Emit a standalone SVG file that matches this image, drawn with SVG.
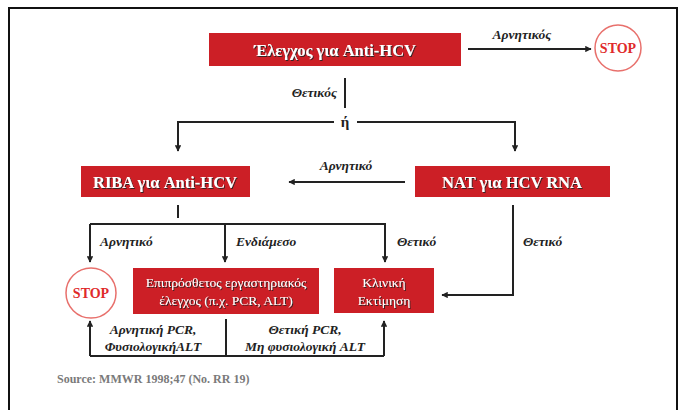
<svg xmlns="http://www.w3.org/2000/svg" width="683" height="410" viewBox="0 0 683 410">
<defs>
<marker id="arr" viewBox="0 0 10 10" refX="9" refY="5" markerWidth="3.2" markerHeight="3.2" orient="auto" markerUnits="strokeWidth">
<path d="M0,0 L10,5 L0,10 z" fill="#222"/>
</marker>
<filter id="sh" x="-10%" y="-30%" width="120%" height="160%">
<feDropShadow dx="1" dy="1" stdDeviation="0.4" flood-color="#222" flood-opacity="0.9"/>
</filter>
</defs>
<style>
.box{fill:#cc1f26}
.bt{font-family:"Liberation Serif","DejaVu Serif Condensed","DejaVu Serif",serif;font-weight:bold;fill:#fff;text-anchor:middle;font-size:16.5px}
.st{font-family:"Liberation Serif","DejaVu Serif Condensed","DejaVu Serif",serif;fill:#fff;text-anchor:middle;font-size:13.5px}
.lb{font-family:"Liberation Serif","DejaVu Serif Condensed","DejaVu Serif",serif;font-weight:bold;font-style:italic;fill:#222;font-size:13.5px}
.c{fill:none;stroke:#222;stroke-width:2}
.stop{fill:#fff;stroke:#e8706c;stroke-width:1.5}
.stopt{font-family:"Liberation Serif","Times New Roman",serif;font-weight:bold;fill:#e02a2a;text-anchor:middle;font-size:14px}
</style>
<rect x="9" y="8" width="668" height="420" fill="#fff" stroke="#111" stroke-width="2"/>
<g id="connectors">
<path class="c" d="M468,49 H591" marker-end="url(#arr)"/>
<path class="c" d="M345,78 V108"/>
<path class="c" d="M334,122 H178 V151" marker-end="url(#arr)"/>
<path class="c" d="M357,122 H515 V151" marker-end="url(#arr)"/>
<path class="c" d="M405,182 H289" marker-end="url(#arr)"/>
<path class="c" d="M178,205 V218"/>
<path class="c" d="M90,224 H385 V262" marker-end="url(#arr)"/>
<path class="c" d="M90,224 V262" marker-end="url(#arr)"/>
<path class="c" d="M225,224 V262" marker-end="url(#arr)"/>
<path class="c" d="M513,205 V295 H442" marker-end="url(#arr)"/>
<path class="c" d="M226,319 V356"/>
<path class="c" d="M90,356 H384"/>
<path class="c" d="M90,356 V321" marker-end="url(#arr)"/>
<path class="c" d="M384,356 V321" marker-end="url(#arr)"/>
<text class="lb" x="522" y="39" text-anchor="middle">Αρνητικός</text>
<text class="lb" x="337" y="97" text-anchor="end">Θετικός</text>
<text class="lb" x="345" y="127" text-anchor="middle" style="font-style:normal;font-size:15px">ή</text>
<text class="lb" x="346" y="170" text-anchor="middle">Αρνητικό</text>
<text class="lb" x="100" y="246">Αρνητικό</text>
<text class="lb" x="236" y="246">Ενδιάμεσο</text>
<text class="lb" x="397" y="246">Θετικό</text>
<text class="lb" x="523" y="246">Θετικό</text>
<text class="lb" x="153" y="334" text-anchor="middle">Αρνητική PCR,</text>
<text class="lb" x="153" y="351" text-anchor="middle">ΦυσιολογικήALT</text>
<text class="lb" x="305" y="334" text-anchor="middle">Θετική PCR,</text>
<text class="lb" x="305" y="351" text-anchor="middle">Μη φυσιολογική ALT</text>
</g>
<g id="n-test">
<rect class="box" x="209" y="33" width="252" height="33"/>
<text class="bt" x="335" y="55.5" filter="url(#sh)">Έλεγχος για Anti-HCV</text>
</g>
<g id="n-stop1">
<circle class="stop" cx="618" cy="48" r="23"/>
<text class="stopt" x="618" y="53">STOP</text>
</g>
<g id="n-riba">
<rect class="box" x="81" y="166" width="169" height="31"/>
<text class="bt" x="165" y="187.5" filter="url(#sh)">RIBA για Anti-HCV</text>
</g>
<g id="n-nat">
<rect class="box" x="415" y="166" width="195" height="31"/>
<text class="bt" x="512" y="187.5" filter="url(#sh)">NAT για HCV RNA</text>
</g>
<g id="n-stop2">
<circle class="stop" cx="91" cy="293" r="25"/>
<text class="stopt" x="91" y="298">STOP</text>
</g>
<g id="n-extra">
<rect class="box" x="133" y="268" width="186" height="46"/>
<text class="st" x="226" y="287" filter="url(#sh)">Επιπρόσθετος εργαστηριακός</text>
<text class="st" x="226" y="305" filter="url(#sh)">έλεγχος (π.χ. PCR, ALT)</text>
</g>
<g id="n-clinic">
<rect class="box" x="334" y="268" width="100" height="45"/>
<text class="st" x="384" y="287" filter="url(#sh)">Κλινική</text>
<text class="st" x="384" y="305" filter="url(#sh)">Εκτίμηση</text>
</g>
<text x="57" y="383" font-family="Liberation Serif, Times New Roman, serif" font-size="12" font-weight="bold" fill="#7a7a7a">Source: MMWR 1998;47 (No. RR 19)</text>
</svg>
